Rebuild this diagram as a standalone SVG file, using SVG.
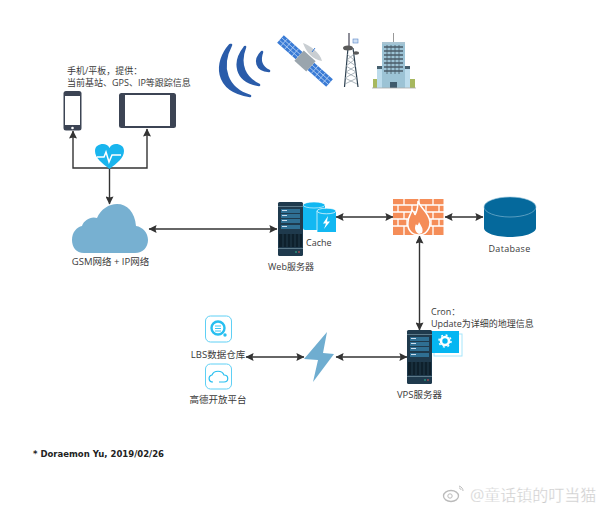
<svg xmlns="http://www.w3.org/2000/svg" width="600" height="509" viewBox="0 0 600 509">
<style>
text{font-family:"Open Sans","Noto Sans CJK SC",sans-serif;font-size:9px;fill:#3a3a3a}
.m{text-anchor:middle}
.c{fill:none;stroke:#333;stroke-width:1.4}
.w{fill:#2a5caa;stroke:#2a5caa;stroke-width:2.600;stroke-linejoin:round}
.srv0{fill:#1f3a4d}.srv1{fill:#2f6f93}.srv2{fill:#0e202c}
.b{fill:#f58d58}
.ic{fill:#fff;stroke:#5fd0f5;stroke-width:1}
</style>
<defs>
<marker id="a" viewBox="0 0 10 10" refX="9.500" refY="5" markerWidth="9" markerHeight="8" markerUnits="userSpaceOnUse" orient="auto-start-reverse"><path d="M0 0L10 5L0 10L1.500 5Z" fill="#333"/></marker>
<g id="server">
<rect width="25" height="54" rx="1.500" class="srv0"/>
<rect y="4" width="25" height="1" fill="#5d7a8a"/>
<rect x="3" y="7" width="19" height="4" class="srv1"/><rect x="3" y="12" width="19" height="4" class="srv1"/><rect x="3" y="17" width="19" height="4" class="srv1"/><rect x="3" y="23" width="19" height="4" class="srv1"/>
<rect x="4" y="8" width="5" height="1" fill="#cde"/><rect x="4" y="13" width="5" height="1" fill="#cde"/><rect x="4" y="18" width="5" height="1" fill="#cde"/><rect x="4" y="24" width="5" height="1" fill="#cde"/>
<rect x="1" y="32" width="23" height="13" class="srv2"/>
<path d="M5 32v13M9 32v13M13 32v13M17 32v13M21 32v13" stroke="#2c4a5c" stroke-width=".7"/>
<rect y="46" width="25" height="1" fill="#5d7a8a"/>
<circle cx="18" cy="50" r=".8" fill="#3c9"/><circle cx="21" cy="50" r=".8" fill="#e55"/>
</g>
</defs>

<g id="connectors">
<path class="c" d="M73 131V168H147V129" marker-start="url(#a)" marker-end="url(#a)"/>
<path class="c" d="M109.500 168V204" marker-end="url(#a)"/>
<path class="c" d="M149 229H277" marker-start="url(#a)" marker-end="url(#a)"/>
<path class="c" d="M336 217H393" marker-start="url(#a)" marker-end="url(#a)"/>
<path class="c" d="M445 217H483" marker-start="url(#a)" marker-end="url(#a)"/>
<path class="c" d="M419.500 236V330" marker-start="url(#a)" marker-end="url(#a)"/>
<path class="c" d="M246 357H304" marker-start="url(#a)" marker-end="url(#a)"/>
<path class="c" d="M336 357H407" marker-start="url(#a)" marker-end="url(#a)"/>
</g>

<g id="signal">
<path class="w" d="M230 45C215 62 214 90 250 96C227 89 219 68 231 45Z"/>
<path class="w" d="M245 47C233 62 235 81 259 85C245 78 238 65 245 47Z"/>
<path class="w" d="M262 52C254 60 256 70 269 71C261 67 259 60 262 52Z"/>
</g>
<g id="satellite">
<g transform="translate(305 61) rotate(42)">
<rect x="-33" y="-5" width="25" height="10" fill="#3a7bd5"/>
<path d="M-33 -1.700H-8M-33 1.700H-8M-28 -5V5M-23 -5V5M-18 -5V5M-13 -5V5" stroke="#b9d3f5" stroke-width=".8"/>
<rect x="8" y="-5" width="25" height="10" fill="#3a7bd5"/>
<path d="M8 -1.700H33M8 1.700H33M13 -5V5M18 -5V5M23 -5V5M28 -5V5" stroke="#b9d3f5" stroke-width=".8"/>
<rect x="-8" y="-7" width="16" height="14" fill="#9aa5ad"/>
</g>
<path d="M303 43C309 45 320 52 322 61C313 60 306 52 303 43Z" fill="#c9ced2"/>
<path d="M312 52L315 48" stroke="#3a7bd5" stroke-width="1"/>
</g>
<g id="tower" fill="none">
<path d="M344.500 87L348 48M358 87L353 48" stroke="#2b3f4f" stroke-width="1.200"/>
<path d="M345 84L357 78L346 72L356 66L347 60L354 54M357 84L345 78L356 72L346 66L354 60L347 54" stroke="#8b98a2" stroke-width=".7"/>
<path d="M349 33V50" stroke="#445" stroke-width="1.200"/>
<ellipse cx="348" cy="48" rx="5" ry="2.500" fill="#5a5a5a"/>
<ellipse cx="356" cy="53" rx="3" ry="1.700" fill="#5a5a5a"/>
<rect x="353" y="39" width="5" height="4" fill="#cfe0f5" stroke="#5a86c5" stroke-width=".6"/>
</g>
<g id="building">
<path d="M393.500 33V43" stroke="#999"/>
<rect x="382" y="43" width="23" height="45" fill="#9cc3d5"/>
<rect x="382" y="42" width="23" height="2" fill="#a9c4d2"/>
<path d="M384 47H403M384 51H403M384 55H403M384 59H403M384 63H403M384 67H403M384 71H403" stroke="#4a5c68" stroke-width="1.500"/>
<path d="M387 45V74M391 45V74M395 45V74M399 45V74" stroke="#4a5c68" stroke-width=".8"/>
<rect x="377" y="67" width="5" height="21" fill="#bcdcec"/><rect x="405" y="67" width="5" height="21" fill="#bcdcec"/>
<rect x="377" y="66" width="5" height="3" fill="#46606f"/><rect x="405" y="66" width="5" height="3" fill="#46606f"/>
<rect x="373" y="79" width="4" height="9" fill="#a7b85f"/><rect x="410" y="79" width="5" height="9" fill="#a7b85f"/>
<rect x="390" y="82" width="7" height="6" fill="#3e5a6c"/>
<path d="M372 88H416" stroke="#aaa" stroke-width=".8"/>
</g>

<g id="mobile-label">
<text x="67" y="74">手机/平板，提供：</text>
<text x="67" y="86">当前基站、GPS、IP等跟踪信息</text>
</g>
<g id="phone">
<rect x="63.500" y="91" width="18" height="39.500" rx="2.500" fill="#3c4454"/>
<rect x="65" y="96" width="15" height="29" fill="#fff"/>
<circle cx="72.500" cy="128" r="1.300" fill="#fff"/>
</g>
<g id="tablet">
<rect x="119" y="93" width="57" height="35" rx="2.500" fill="#3c4454"/>
<rect x="125" y="95" width="45" height="31" fill="#fff"/>
</g>
<g id="heart">
<path d="M109.500 169C102 163 95 158 95 151C95 146 99 144 103 144C106 144 108 145 109.500 148C111 145 113 144 116 144C120 144 124 146 124 151C124 158 117 163 109.500 169Z" fill="#19b5ee"/>
<path d="M97 157H104L106 152L109 162L112 155H121" fill="none" stroke="#fff" stroke-width="1.500"/>
</g>

<g id="gsm">
<path d="M84 253C76 253 72 247 72 240C72 232 77 227 82 226C84 220 91 216 97 218C101 209 109 204 117 204C127 204 135 212 136 226C143 227 148 233 148 240C148 247 143 253 135 253Z" fill="#77b0d1"/>
<text class="m" x="110.500" y="265" style="font-size:9.500px">GSM网络 + IP网络</text>
</g>

<g id="web">
<use href="#server" x="278" y="202"/>
<rect x="303" y="204" width="22" height="26" rx="2" fill="#12b8f2"/>
<ellipse cx="314" cy="205" rx="11" ry="3" fill="#12b8f2" stroke="#fff" stroke-width=".6"/>
<rect x="317" y="211" width="19" height="21" fill="#12b8f2"/>
<path d="M317 211V232" stroke="#fff" stroke-width=".7"/>
<ellipse cx="326.500" cy="211" rx="9.500" ry="2.800" fill="#12b8f2" stroke="#fff" stroke-width=".7"/>
<path d="M328 216L323 223.500H326L324 229L330 221.500H327Z" fill="#fff"/>
<text x="306" y="246">Cache</text>
<text class="m" x="291" y="270">Web服务器</text>
</g>

<g id="firewall">
<rect class="b" x="393" y="199" width="50.500" height="36"/>
<path d="M393 205H444M393 212H444M393 219H444M393 226H444" stroke="#fff" stroke-width="1.300"/>
<path d="M404 199V205M419 199V205M433 199V205M398 205V212M412 205V212M426 205V212M439 205V212M404 212V219M433 212V219M398 219V226M407 219V226M431 219V226M439 219V226M404 226V235M433 226V235" stroke="#fff" stroke-width="1.300"/>
<path class="b" d="M418 201C420 208 429 212 430 222C430 230 425 235 419 235C412 235 407 230 408 222C408 217 411 214 412 210C414 212 415 213 415 215C417 211 418 206 418 201Z" stroke="#fff" stroke-width="1.500"/>
<path d="M419 234C415 232 414 228 416 224C417 226 418 226 419 222C421 226 424 229 422 233Z" fill="#fff"/>
</g>

<g id="database">
<path d="M484 207V228C484 233 496 237 510 237C524 237 536 233 536 228V207Z" fill="#05699c"/>
<ellipse cx="510" cy="207" rx="26" ry="10" fill="#05699c" stroke="#8fc0d8" stroke-width=".6"/>
<text class="m" x="509.500" y="252" letter-spacing=".3">Database</text>
</g>

<g id="vps">
<use href="#server" x="407" y="330"/>
<rect x="434" y="334" width="28" height="22" fill="#fff" stroke="#a6e6fb" stroke-width="1"/>
<rect x="432" y="331" width="27" height="22" fill="#05b6f2"/>
<circle cx="445" cy="341" r="4" fill="none" stroke="#fff" stroke-width="2.600"/>
<circle cx="445" cy="341" r="6" fill="none" stroke="#fff" stroke-width="1.500" stroke-dasharray="2 2.700"/>
<text x="431" y="315">Cron：</text>
<text x="431" y="327">Update为详细的地理信息</text>
<text class="m" x="419.500" y="398" style="font-size:9.500px">VPS服务器</text>
</g>

<g id="lightning">
<path d="M327 332L323 353L334 354L313 382L318 360L304 359Z" fill="#6fadd0"/>
</g>

<g id="lbs">
<rect class="ic" x="205.500" y="316" width="26" height="26" rx="5"/>
<circle cx="218" cy="328" r="6.500" fill="none" stroke="#28bff0" stroke-width="2.400"/>
<path d="M215 326H221M215 328.500H221M215 331H221" stroke="#28bff0" stroke-width=".9"/>
<circle cx="225" cy="335" r="1.700" fill="#28bff0"/>
<text class="m" x="218" y="358" style="font-size:9.500px">LBS数据仓库</text>
</g>
<g id="gaode">
<rect class="ic" x="205.500" y="364" width="26" height="25" rx="5"/>
<path d="M213 382C208 382 208 376 212 375C214 370 222 370 224 375C229 375 229 382 224 382H219" fill="none" stroke="#28bff0" stroke-width="1.200"/>
<text class="m" x="218" y="403" style="font-size:9.500px">高德开放平台</text>
</g>

<text x="33" y="457" style="font-family:'DejaVu Sans',sans-serif;font-weight:700;font-size:8.500px;fill:#222">* Doraemon Yu, 2019/02/26</text>

<g id="watermark">
<ellipse cx="451" cy="496" rx="7.500" ry="5.500" fill="none" stroke="#bbb" stroke-width="1.300"/>
<circle cx="450" cy="496" r="2.200" fill="none" stroke="#bbb"/>
<path d="M459 486C462 487 463 489 463 491M459 488C460 488 461 489 461 490" fill="none" stroke="#bbb"/>
<text x="470" y="501" style="font-size:16px;fill:#ccc;stroke:#fff;stroke-width:.3">@童话镇的叮当猫</text>
</g>
</svg>
